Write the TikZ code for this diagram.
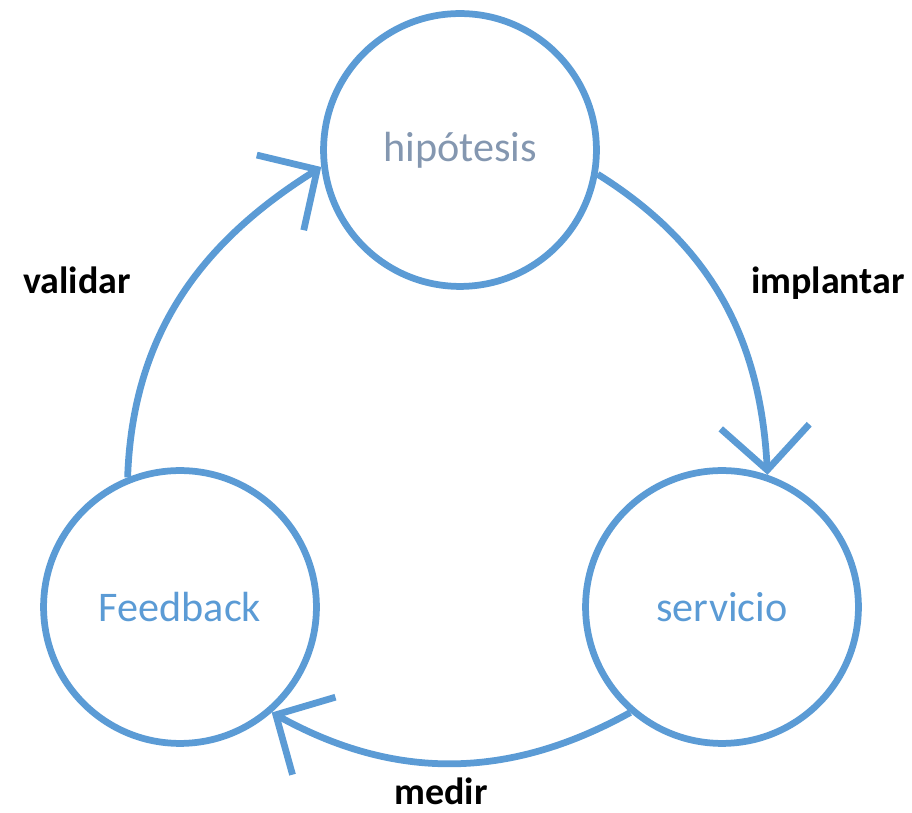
\documentclass[tikz,border=0pt]{standalone}
\usepackage{fontspec}
\setmainfont{Carlito}
\usepackage{tikz}
\usetikzlibrary{arrows.meta}
\definecolor{cycleblue}{HTML}{5B9BD5}
\definecolor{hypogray}{HTML}{8497B0}

\begin{document}
\begin{tikzpicture}[x=0.025cm, y=0.025cm,
    stage/.style={circle, draw=cycleblue, line width=4.8pt, minimum size=6.82cm,
        inner sep=0pt, text=cycleblue, font=\fontsize{30}{36}\selectfont},
    flow/.style={draw=cycleblue, line width=4.8pt,
        -{Straight Barb[length=31pt, width=63pt]}},
    lbl/.style={anchor=base, font=\fontsize{27}{32}\selectfont\bfseries}]
    % Frame
    \useasboundingbox (0,0) rectangle (912,813);

    % Stages
    \node[stage, text=hypogray] (hyp) at (460,663) {hipótesis};
    \node[stage] (feed) at (180,206) {Feedback};
    \node[stage] (serv) at (722,206) {servicio};

    % Cycle
    \draw[flow] (feed.112) to[out=88, in=212] (hyp.187);
    \draw[flow] (hyp.-10) to[out=-32, in=93] (serv.71);
    \draw[flow] (serv.229) to[out=209, in=-29] (feed.311);

    % Labels
    \node[lbl] (validar) at (77,519) {validar};
    \node[lbl] (implantar) at (828,519) {implantar};
    \node[lbl] (medir) at (441,8) {medir};
\end{tikzpicture}
\end{document}
